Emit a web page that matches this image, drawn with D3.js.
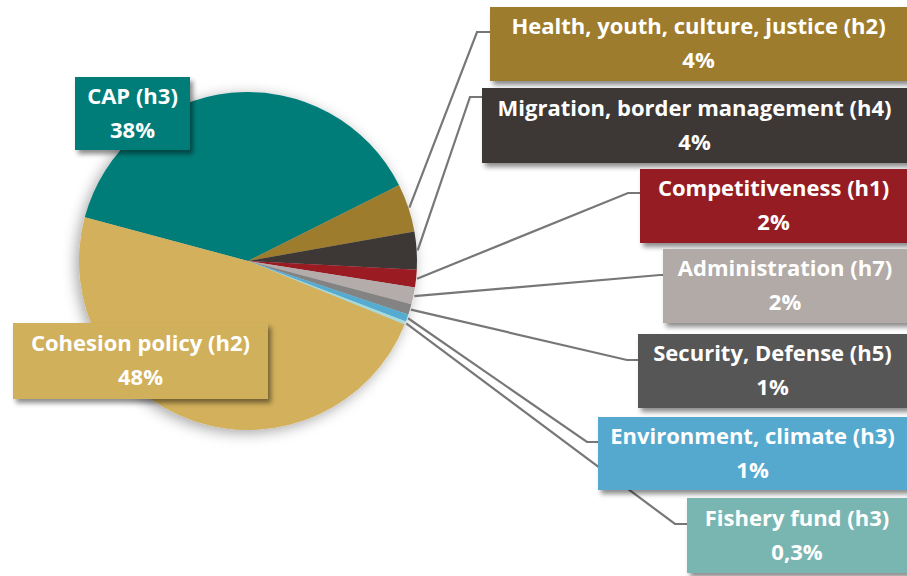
<!DOCTYPE html>
<html>
<head>
<meta charset="utf-8">
<script src="https://cdn.jsdelivr.net/npm/d3@7"></script>
<style>
  body { margin: 0; background: #fff; }
  svg { display: block; font-family: "Open Sans", Lato, sans-serif; }
</style>
</head>
<body>
<div id="chart"></div>
<script>
// data, clockwise starting from the CAP slice
var categories = ["CAP (h3)", "Health, youth, culture, justice (h2)", "Migration, border management (h4)",
    "Competitiveness (h1)", "Administration (h7)", "Security, Defense (h5)",
    "Environment, climate (h3)", "Fishery fund (h3)", "Cohesion policy (h2)"];
var shares = [38.4, 4.6, 3.6, 1.7, 1.6, 1.0, 0.7, 0.3, 48];
var shareLabels = ["38%", "4%", "4%", "2%", "2%", "1%", "1%", "0,3%", "48%"];
var sliceColors = ["#037d78", "#9d7b2d", "#3e3836", "#9a1b24", "#b3acaa", "#838383", "#55acd0", "#a6dadb", "#d2b05c"];
var boxColors = ["#037d78", "#9d7b2d", "#3e3836", "#951a22", "#b1aaa7", "#575757", "#55a8ce", "#7ab6b1", "#d1b05c"];

// label boxes (layout only): box rect + elbow point of the leader line
var boxLayout = [
    { x: 75,  y: 77,  w: 115, h: 73 },
    { x: 490, y: 7,   w: 430, h: 74, ex: 477, ey: 32 },
    { x: 482, y: 88,  w: 440, h: 75, ex: 470, ey: 97 },
    { x: 640, y: 169, w: 280, h: 74, ex: 628, ey: 193 },
    { x: 663, y: 249, w: 260, h: 74, ex: 660, ey: 275 },
    { x: 638, y: 334, w: 280, h: 74, ex: 627, ey: 360 },
    { x: 598, y: 417, w: 320, h: 73, ex: 587, ey: 442 },
    { x: 687, y: 498, w: 230, h: 75, ex: 675, ey: 524 },
    { x: 13,  y: 323, w: 255, h: 76 }
];

var chart = function(_parentElement) {
    this.parentElement = _parentElement;
    this.initVis();
};

chart.prototype.initVis = function() {
    var vis = this;
    vis.width = 907;
    vis.height = 576;
    vis.cx = 248;
    vis.cy = 261;
    vis.radius = 169;

    vis.svg = d3.select("#" + vis.parentElement).append("svg")
        .attr("width", vis.width)
        .attr("height", vis.height);

    var defs = vis.svg.append("defs");
    defs.append("filter").attr("id", "pieShadow")
        .attr("x", "-20%").attr("y", "-20%").attr("width", "140%").attr("height", "140%")
        .append("feDropShadow")
        .attr("dx", -3).attr("dy", 3).attr("stdDeviation", 7)
        .attr("flood-color", "#000").attr("flood-opacity", 0.35);
    defs.append("filter").attr("id", "boxShadow")
        .attr("x", "-10%").attr("y", "-20%").attr("width", "130%").attr("height", "150%")
        .append("feDropShadow")
        .attr("dx", 3).attr("dy", 4).attr("stdDeviation", 2.5)
        .attr("flood-color", "#000").attr("flood-opacity", 0.45);

    vis.updateVis();
};

chart.prototype.updateVis = function() {
    var vis = this;
    var data = categories.map(function(c, i) {
        return { name: c, value: shares[i], label: shareLabels[i], i: i };
    });

    var pie = d3.pie()
        .sort(null)
        .value(function(d) { return d.value; })
        .startAngle(-75 * Math.PI / 180)
        .endAngle(285 * Math.PI / 180);
    var arcs = pie(data);

    var arc = d3.arc().innerRadius(0).outerRadius(vis.radius);

    var g = vis.svg.append("g")
        .attr("transform", "translate(" + vis.cx + "," + vis.cy + ")")
        .attr("filter", "url(#pieShadow)");
    g.selectAll("path.slice")
        .data(arcs)
        .enter().append("path")
        .attr("class", "slice")
        .attr("d", arc)
        .attr("fill", function(d) { return sliceColors[d.data.i]; });

    // leader lines
    vis.svg.selectAll("polyline.leader")
        .data(arcs.filter(function(d) { return boxLayout[d.data.i].ex !== undefined; }))
        .enter().append("polyline")
        .attr("class", "leader")
        .attr("fill", "none")
        .attr("stroke", "#777")
        .attr("stroke-width", 2.2)
        .attr("points", function(d) {
            var a = (d.startAngle + d.endAngle) / 2;
            var r = vis.radius + 1;
            var p0 = [vis.cx + Math.sin(a) * r, vis.cy - Math.cos(a) * r];
            var b = boxLayout[d.data.i];
            return [p0, [b.ex, b.ey], [b.x, b.ey]].map(function(p) { return p.join(","); }).join(" ");
        });

    // label boxes
    var boxes = vis.svg.selectAll("g.box")
        .data(data)
        .enter().append("g")
        .attr("class", "box");

    boxes.append("rect")
        .attr("x", function(d) { return boxLayout[d.i].x; })
        .attr("y", function(d) { return boxLayout[d.i].y; })
        .attr("width", function(d) { return boxLayout[d.i].w; })
        .attr("height", function(d) { return boxLayout[d.i].h; })
        .attr("fill", function(d) { return boxColors[d.i]; })
        .attr("filter", "url(#boxShadow)");

    var textX = function(d) {
        var b = boxLayout[d.i];
        var right = Math.min(b.x + b.w, 907);
        return (b.x + right) / 2;
    };
    var midY = function(d) { return boxLayout[d.i].y + boxLayout[d.i].h / 2; };

    boxes.append("text")
        .attr("x", textX)
        .attr("y", function(d) { return midY(d) - 10; })
        .attr("text-anchor", "middle")
        .attr("fill", "#fff")
        .attr("font-size", 22)
        .attr("font-weight", 700)
        .text(function(d) { return d.name; });

    boxes.append("text")
        .attr("x", textX)
        .attr("y", function(d) { return midY(d) + 24; })
        .attr("text-anchor", "middle")
        .attr("fill", "#fff")
        .attr("font-size", 22)
        .attr("font-weight", 700)
        .text(function(d) { return d.label; });
};

new chart("chart");
</script>
</body>
</html>
